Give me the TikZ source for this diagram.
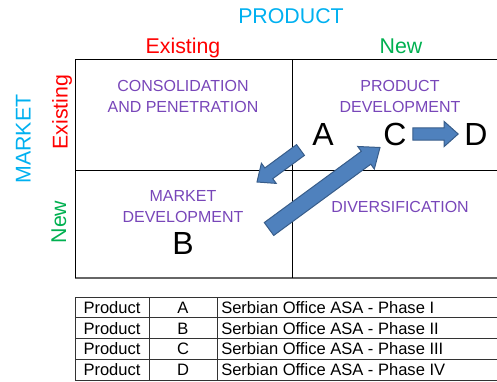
\documentclass[tikz,border=0pt]{standalone}
\usepackage{fontspec}
\setmainfont{Liberation Sans}
\usetikzlibrary{calc}

\definecolor{headcyan}{RGB}{0,176,240}
\definecolor{labred}{RGB}{255,0,0}
\definecolor{labgreen}{RGB}{0,176,80}
\definecolor{quadpurple}{RGB}{120,70,185}
\definecolor{arrfill}{RGB}{79,129,189}
\definecolor{arrline}{RGB}{56,93,138}

% block arrow: #1 tail, #2 tip, #3 shaft half width, #4 head half width, #5 head length
\newcommand\blockarrow[5]{%
  \coordinate (hb) at ($(#2)!#5!(#1)$);
  \draw[blockarr]
    ($(#1)!#3!90:(#2)$) -- ($(#1)!#3!-90:(#2)$) --
    ($(hb)!#3!-90:(#2)$) -- ($(hb)!#4!-90:(#2)$) -- (#2) --
    ($(hb)!#4!90:(#2)$) -- ($(hb)!#3!90:(#2)$) -- cycle;
}

\begin{document}
\begin{tikzpicture}[x=0.75pt,y=-0.75pt,
  axislabel/.style={font=\fontsize{16}{19}\selectfont,text=headcyan,anchor=base,inner sep=0pt},
  redlabel/.style={font=\fontsize{16}{19}\selectfont,text=labred,anchor=base,inner sep=0pt},
  greenlabel/.style={font=\fontsize{16}{19}\selectfont,text=labgreen,anchor=base,inner sep=0pt},
  quadlabel/.style={font=\fontsize{12}{15.75}\selectfont,text=quadpurple,align=center,anchor=center,inner sep=0pt},
  phase/.style={font=\fontsize{24}{28}\selectfont,text=black,anchor=center,inner sep=0pt},
  cell/.style={font=\fontsize{12.4}{15}\selectfont,text=black,anchor=base,inner sep=0pt},
  celltext/.style={cell,anchor=base west},
  grid/.style={black,line width=0.75pt},
  tablegrid/.style={black!80,line width=0.75pt},
  blockarr/.style={fill=arrfill,draw=arrline,line width=0.75pt,line join=miter}
]
\useasboundingbox (0,0) rectangle (497,382);
\clip (0,0) rectangle (497,382);

% axis titles
\node[axislabel] (product) at (291,23.6) {PRODUCT};
\node[axislabel,rotate=90] (market) at (30.6,139) {MARKET};

% column and row headings
\node[redlabel] (colexist) at (183,53.3) {Existing};
\node[greenlabel] (colnew) at (401,53.3) {New};
\node[redlabel,rotate=90] (rowexist) at (67.5,112) {Existing};
\node[greenlabel,rotate=90] (rownew) at (66,222) {New};

% matrix grid
\draw[grid] (75,59) -- (510,59);
\draw[grid] (75,170) -- (510,170);
\draw[black!60,line width=1.1pt] (75,278) -- (510,278);
\draw[grid] (75,59) -- (75,278);
\draw[grid] (292,59) -- (292,278);

% quadrant names
\node[quadlabel] (q1) at (183,96.5) {CONSOLIDATION\\AND PENETRATION};
\node[quadlabel] (q2) at (400,96.5) {PRODUCT\\DEVELOPMENT};
\node[quadlabel] (q3) at (183,207) {MARKET\\DEVELOPMENT};
\node[quadlabel] (q4) at (400,207) {DIVERSIFICATION};

% phases
\node[phase] (A) at (323,134.5) {A};
\node[phase] (C) at (395,134) {C};
\node[phase] (D) at (476,134) {D};
\node[phase] (B) at (183,243) {B};

% moves between phases
\coordinate (atail) at (300.5,150);
\coordinate (atip) at (257,182);
\coordinate (btail) at (269,229);
\coordinate (btip) at (380,147.5);
\coordinate (ctail) at ($(C.east)+(6,0)$);
\coordinate (ctip) at ($(D.west)+(-6,0)$);
\blockarrow{atail}{atip}{5pt}{9.4pt}{11pt}
\blockarrow{btail}{btip}{6pt}{10.5pt}{13pt}
\blockarrow{ctail}{ctip}{4.6pt}{9.4pt}{10.5pt}

% legend table
\foreach \y in {297,317.75,338.5,359.25,380}
  \draw[tablegrid] (75,\y) -- (510,\y);
\foreach \x in {75,149,217}
  \draw[tablegrid] (\x,297) -- (\x,380);

\node[cell] (p1) at (112,313.3) {Product};
\node[cell] (p2) at (112,334.1) {Product};
\node[cell] (p3) at (112,354.8) {Product};
\node[cell] (p4) at (112,375.6) {Product};
\node[cell] (l1) at (183,313.3) {A};
\node[cell] (l2) at (183,334.1) {B};
\node[cell] (l3) at (183,354.8) {C};
\node[cell] (l4) at (183,375.6) {D};
\node[celltext] (t1) at (221,313.3) {Serbian Office ASA - Phase I};
\node[celltext] (t2) at (221,334.1) {Serbian Office ASA - Phase II};
\node[celltext] (t3) at (221,354.8) {Serbian Office ASA - Phase III};
\node[celltext] (t4) at (221,375.6) {Serbian Office ASA - Phase IV};
\end{tikzpicture}
\end{document}
